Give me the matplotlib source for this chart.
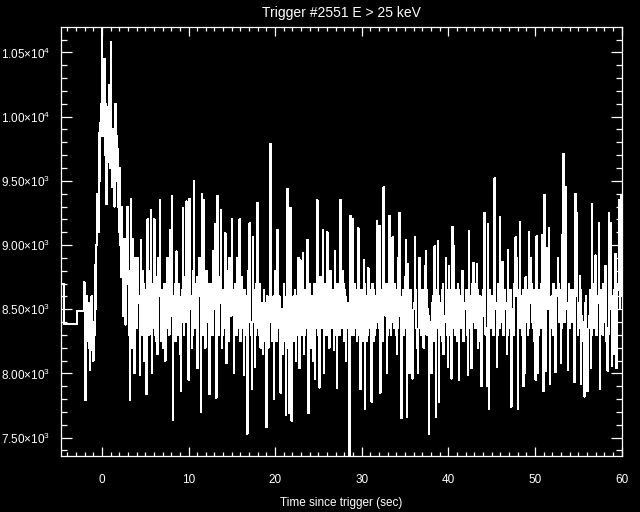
import matplotlib
matplotlib.use("Agg")
import matplotlib.pyplot as plt
import numpy as np
from matplotlib.ticker import MultipleLocator, FuncFormatter

plt.rcParams['font.family'] = ['Liberation Sans', 'DejaVu Sans']
plt.rcParams['mathtext.fontset'] = 'custom'
plt.rcParams['mathtext.rm'] = 'Liberation Sans'
plt.rcParams['mathtext.default'] = 'regular'

title = "Trigger #2551 E > 25 keV"
xlabel = "Time since trigger (sec)"
ylabel = "Rate (counts s$^{-1}$)"

# coarse pre-trigger bins (edges in s) and rates
coarse_edges = [-5.0, -4.34, -2.93, -2.048]
coarse_rates = [8700, 8385, 8484]

# fine 64 ms bins: start time, width, rates
fine_start = -2.048
fine_width = 0.064
fine_rates = [
    8710, 8450, 7790, 8350, 8600, 8250, 8300, 8550, 8520, 8200, 8030, 8400, 8420, 8600, 8180, 8350,
    8100, 8400, 8300, 8650, 8850, 8500, 9000, 9250, 9400, 9100, 9870, 9500, 9700, 9950, 10100, 9850,
    10780, 10000, 9850, 10200, 10450, 9900, 9700, 10100, 9320, 9750, 10075, 9650, 9800, 10250, 9950, 9600,
    10580, 9800, 9450, 9900, 9900, 9400, 9300, 9700, 10100, 9500, 9550, 9850, 9750, 9300, 9100, 9600,
    9500, 9000, 8750, 9150, 9300, 8800, 8450, 8900, 9050, 8600, 8380, 8850, 9000, 8700, 9300, 8800,
    8300, 8400, 7790, 8450, 9360, 8550, 8200, 8300, 9050, 8600, 8000, 8400, 8900, 8700, 8400, 8350,
    8900, 8650, 8550, 8600, 7990, 8400, 9040, 8600, 8300, 8350, 8800, 8700, 8100, 8300, 8650, 8600,
    7840, 8400, 9200, 8600, 8400, 8300, 8800, 8650, 9270, 8550, 8000, 8350, 8650, 8700, 9200, 8550,
    8300, 8250, 8750, 8650, 8150, 8350, 8900, 8700, 9350, 8600, 8250, 8400, 8600, 8650, 8200, 8300,
    8700, 8600, 8100, 8350, 8550, 8700, 8900, 8650, 8350, 8300, 9120, 8600, 8500, 8450, 9380, 8550,
    7640, 8400, 8600, 8700, 8250, 8350, 8950, 8650, 8400, 8300, 8700, 8600, 8150, 8350, 7860, 8400,
    8600, 8650, 9290, 8550, 8300, 8400, 8750, 8600, 9340, 8600, 8400, 8350, 7950, 8400, 9360, 8550,
    8500, 8600, 8200, 8300, 8800, 8650, 9500, 8600, 8350, 8400, 8700, 8750, 8040, 8350, 8650, 8600,
    8900, 8700, 7700, 8400, 9400, 8550, 8400, 8300, 9350, 8600, 8200, 8350, 8800, 8650, 8450, 8400,
    8600, 8700, 7840, 8400, 8700, 8650, 8350, 8300, 8950, 8650, 8500, 8550, 9160, 8600, 7810, 8400,
    9380, 8600, 8300, 8350, 8750, 8700, 9270, 8550, 8200, 8300, 8650, 8600, 8450, 8350, 9090, 8600,
    8080, 8350, 8800, 8700, 8350, 8250, 8900, 8650, 8500, 8450, 9200, 8600, 8600, 8650, 8000, 8350,
    8700, 8600, 8300, 8400, 8900, 8700, 8450, 8350, 9200, 8600, 8250, 8350, 8750, 8650, 8500, 8550,
    7990, 8400, 8650, 8600, 8300, 8350, 7530, 8450, 8800, 8650, 9170, 8600, 8400, 8300, 7880, 8400,
    9060, 8650, 8450, 8400, 8050, 8300, 8700, 8650, 9330, 8600, 8350, 8300, 8600, 8700, 8200, 8350,
    8550, 8500, 8150, 8250, 8650, 8550, 8300, 8250, 7580, 8350, 8600, 8550, 8200, 8300, 8450, 8400,
    9790, 8550, 8300, 8250, 8550, 8600, 7800, 8300, 8800, 8600, 8250, 8300, 9120, 8550, 8400, 8350,
    8600, 8550, 7850, 8300, 8500, 8450, 8150, 8250, 8700, 8600, 8300, 8350, 7680, 8350, 9440, 8550,
    8200, 8250, 7690, 8350, 9290, 8550, 7630, 8300, 8550, 8600, 8250, 8300, 8650, 8600, 8100, 8300,
    8400, 8350, 8900, 8700, 8040, 8300, 8880, 8650, 8300, 8350, 8940, 8650, 8150, 8300, 8600, 8650,
    8350, 8400, 9040, 8650, 7690, 8350, 8700, 8650, 8200, 8300, 8550, 8600, 8100, 8350, 8650, 8700,
    7960, 8350, 8600, 8650, 9350, 8600, 8300, 8400, 7890, 8350, 8750, 8650, 8400, 8350, 9120, 8600,
    8000, 8350, 8650, 8700, 8350, 8300, 9100, 8650, 8500, 8450, 8200, 8300, 8800, 8650, 8400, 8350,
    8650, 8600, 8180, 8300, 8950, 8700, 8450, 8400, 7890, 8350, 8700, 8650, 8300, 8350, 9350, 8600,
    8400, 8350, 8800, 8700, 8250, 8300, 8650, 8600, 8100, 8350, 8500, 8550, 8350, 8400, 7300, 8450,
    9230, 8600, 8400, 8300, 9200, 8650, 8300, 8350, 8700, 8650, 8500, 8450, 8250, 8300, 9130, 8600,
    8500, 8550, 7880, 8350, 8650, 8600, 8300, 8250, 8880, 8700, 7720, 8350, 8550, 8600, 8250, 8300,
    8820, 8650, 8400, 8350, 8600, 8650, 7780, 8350, 8700, 8650, 8250, 8300, 8550, 8600, 8350, 8400,
    9190, 8600, 8400, 8350, 9150, 8650, 7850, 8350, 8600, 8650, 8300, 8250, 9450, 8600, 8500, 8450,
    8650, 8700, 8000, 8300, 8500, 8550, 9230, 8600, 8350, 8300, 8750, 8650, 9060, 8600, 8400, 8350,
    8700, 8650, 8350, 8300, 8150, 8350, 8900, 8700, 9250, 8600, 8450, 8400, 7650, 8350, 8600, 8650,
    8300, 8350, 8750, 8700, 9040, 8600, 7660, 8350, 8850, 8650, 8000, 8300, 8600, 8650, 8350, 8300,
    7960, 8350, 8500, 8550, 9060, 8650, 8400, 8350, 8200, 8300, 8000, 8350, 8900, 8650, 8500, 8550,
    8300, 8350, 8650, 8600, 8200, 8300, 8840, 8700, 8950, 8650, 8350, 8300, 8500, 8450, 7530, 8400,
    8400, 8350, 8000, 8300, 8550, 8600, 8250, 8350, 8990, 8650, 7660, 8350, 8450, 8500, 9030, 8600,
    7780, 8350, 8500, 8550, 8300, 8250, 8650, 8700, 8150, 8300, 8450, 8400, 8900, 8650, 8300, 8350,
    8050, 8300, 8840, 8650, 8400, 8350, 7960, 8350, 9140, 8600, 8990, 8650, 8350, 8300, 8600, 8650,
    8300, 8250, 8700, 8650, 7950, 8350, 8550, 8600, 8400, 8350, 8800, 8700, 8250, 8300, 8500, 8550,
    8600, 8650, 8350, 8300, 7990, 8350, 9110, 8600, 8450, 8400, 8040, 8300, 8700, 8650, 8860, 8650,
    8400, 8350, 8650, 8700, 8850, 8650, 8200, 8300, 8550, 8600, 8300, 8250, 7900, 8350, 8600, 8650,
    8500, 8450, 9250, 8600, 8300, 8350, 7900, 8350, 9160, 8600, 7720, 8350, 8650, 8600, 8400, 8350,
    8550, 8600, 8300, 8350, 9520, 8600, 8500, 8550, 8050, 8300, 8700, 8650, 8400, 8350, 9220, 8600,
    8450, 8400, 8870, 8700, 8300, 8350, 8650, 8600, 8500, 8550, 8150, 8300, 8960, 8650, 8400, 8350,
    8600, 8650, 7740, 8350, 8500, 8450, 8300, 8350, 8700, 8650, 9060, 8600, 8900, 8650, 7720, 8350,
    8500, 8550, 9180, 8600, 8350, 8300, 8600, 8650, 7900, 8350, 8000, 8300, 8750, 8650, 8450, 8400,
    8300, 8350, 9100, 8600, 8550, 8600, 8900, 8700, 8400, 8350, 8650, 8600, 8250, 8300, 7950, 8350,
    9070, 8600, 8000, 8300, 8600, 8650, 8400, 8350, 8700, 8650, 9080, 8600, 7860, 8350, 9390, 8600,
    8020, 8350, 8980, 8650, 8500, 8550, 9130, 8600, 7920, 8350, 8550, 8600, 8350, 8300, 8700, 8650,
    8300, 8350, 8010, 8300, 8650, 8600, 8900, 8700, 8450, 8400, 8600, 8650, 8080, 8350, 9080, 8600,
    9710, 8650, 8400, 8450, 9450, 8650, 8500, 8550, 8030, 8350, 8700, 8650, 8350, 8400, 8600, 8650,
    8450, 8400, 8600, 8650, 7930, 8350, 9400, 8600, 9250, 8650, 8300, 8350, 8500, 8550, 8760, 8650,
    7920, 8300, 8450, 8400, 8250, 8300, 7820, 8350, 8550, 8600, 8300, 8250, 7860, 8350, 8400, 8450,
    8600, 8650, 8040, 8300, 9320, 8600, 8400, 8350, 8700, 8650, 8920, 8650, 8300, 8350, 8550, 8600,
    9170, 8600, 7880, 8350, 8600, 8650, 8350, 8300, 8700, 8650, 8450, 8400, 8840, 8700, 8250, 8350,
    8020, 8300, 9250, 8650, 8500, 8550, 9170, 8600, 8060, 8350, 8600, 8650, 8150, 8300, 8930, 8650,
    8040, 8400, 8700, 8650, 9350, 8650, 8500, 8600, 9380, 8700,
]

xlim = (-4.78, 60.05)
ylim = (7357, 10698)

fine_edges = fine_start + fine_width * np.arange(len(fine_rates) + 1)
edges = np.concatenate([coarse_edges[:-1], fine_edges])
rates = np.concatenate([coarse_rates, fine_rates])

fig = plt.figure(figsize=(6.4, 5.12), dpi=100, facecolor='black')
ax = fig.add_axes([60.5/640, 1 - 456/512, (622 - 60.5)/640, (456 - 27)/512])
ax.set_facecolor('black')

ax.stairs(rates, edges, color='white', linewidth=0.72, baseline=None,
          antialiased=False)

ax.set_xlim(*xlim)
ax.set_ylim(*ylim)

for s in ax.spines.values():
    s.set_color('white')
    s.set_linewidth(0.9)

ax.xaxis.set_major_locator(MultipleLocator(10))
ax.xaxis.set_minor_locator(MultipleLocator(1))
ax.yaxis.set_major_locator(MultipleLocator(500))
ax.yaxis.set_minor_locator(MultipleLocator(100))

def yfmt(v, pos):
    e = int(np.floor(np.log10(v)))
    m = v / 10**e
    return '%.2f\u00d710$^{%d}$' % (m, e)

ax.yaxis.set_major_formatter(FuncFormatter(yfmt))

ax.tick_params(which='both', direction='in', colors='white', top=True, right=True)
ax.tick_params(axis='x', which='major', length=6.5, width=0.9, pad=13, labelsize=8.5)
ax.tick_params(axis='x', which='minor', length=3, width=0.9)
ax.tick_params(axis='y', which='major', length=8, width=0.9, pad=7.5, labelsize=8.5)
ax.tick_params(axis='y', which='minor', length=4, width=0.9)

ax.set_title(title, color='white', fontsize=10, pad=7)
ax.set_xlabel(xlabel, color='white', fontsize=8.5, labelpad=8)
fig.text(3.0/640, 1 - 241.5/512, ylabel, color='white', fontsize=8,
         rotation=90, ha='right', va='center')

fig.savefig('out.png', dpi=100, facecolor='black')
